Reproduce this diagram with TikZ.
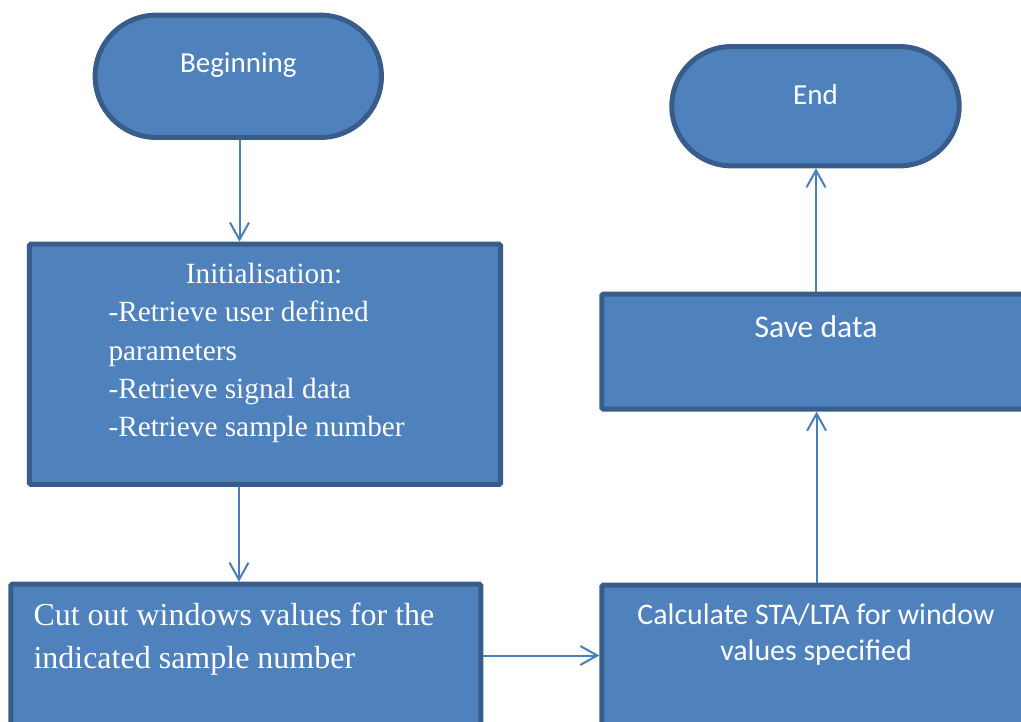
\documentclass[tikz,border=0pt]{standalone}
\usepackage{fontspec}
\setmainfont{Liberation Serif}
\newfontfamily\calfont{Carlito}
\usetikzlibrary{arrows.meta,calc}
\definecolor{boxfill}{HTML}{4F81BD}
\definecolor{boxline}{HTML}{385D8A}
\definecolor{linkblue}{HTML}{4A7EBB}
\begin{document}
\begin{tikzpicture}[x=1pt,y=-1pt,
  shapebox/.style={draw=boxline, fill=boxfill, line width=5pt, inner sep=0pt},
  terminal/.style={shapebox},
  process/.style={shapebox, rounded corners=1.5pt},
  conn/.style={draw=linkblue, line width=2pt, line cap=round,
    -{Straight Barb[length=17pt,width=19pt,line width=2pt]}},
  sanslabel/.style={text=white, inner sep=0pt, anchor=base,
    font=\calfont\fontsize{29}{35}\selectfont},
  seriflabel/.style={text=white, inner sep=0pt, anchor=base west,
    font=\fontsize{29.3}{38}\selectfont},
  bigserif/.style={text=white, inner sep=0pt, anchor=base west,
    font=\fontsize{32}{42}\selectfont}]
\useasboundingbox (0,0) rectangle (1021,722);
\clip (0,0) rectangle (1021,722);

% terminals
\node[terminal, rounded corners=61pt, minimum width=286.3pt, minimum height=122.3pt]
  (begin) at (238.3,76.3) {};
\node[terminal, rounded corners=59.6pt, minimum width=287.4pt, minimum height=119.3pt]
  (end) at (815.5,106.2) {};

% process boxes
\node[process, minimum width=471.3pt, minimum height=240.3pt] (init) at (264.9,364.3) {};
\node[process, minimum width=470pt, minimum height=240pt] (cut) at (245.8,704.2) {};
\node[process, minimum width=428.4pt, minimum height=240pt] (calc) at (816,705.2) {};
\node[process, minimum width=428.4pt, minimum height=115pt] (save) at (816,351.7) {};

% texts
\node[sanslabel] (begintxt) at (238.3,73) {Beginning};
\node[sanslabel] (endtxt) at (815.5,105) {End};
\node[sanslabel, font=\calfont\fontsize{31.6}{38}\selectfont] (savetxt) at (816,337.3) {Save data};
\node[sanslabel, font=\calfont\fontsize{29.9}{36}\selectfont] (calctxta) at (816,624) {Calculate STA/LTA for window};
\node[sanslabel, font=\calfont\fontsize{29.9}{36}\selectfont] (calctxtb) at (816,660.7) {values specified};

\node[seriflabel, anchor=base] (inittxt0) at (264,283.3) {Initialisation:};
\node[seriflabel] (inittxt1) at (108.3,321.7) {-Retrieve user defined};
\node[seriflabel] (inittxt2) at (108.3,360) {parameters};
\node[seriflabel] (inittxt3) at (108.3,398.3) {-Retrieve signal data};
\node[seriflabel] (inittxt4) at (108.3,436.7) {-Retrieve sample number};

\node[bigserif] (cuttxt1) at (33.3,625.7) {Cut out windows values for the};
\node[bigserif] (cuttxt2) at (33.3,668) {indicated sample number};

% connectors
\draw[conn] ($(begin.south)+(1.2,0)$) -- ($(begin.south |- init.north)+(1.2,0)$);
\draw[conn] ($(begin.south |- init.south)+(0.7,0)$) -- ($(begin.south |- cut.north)+(0.7,0)$);
\draw[conn] (cut.east |- 0,655.5) -- (calc.west |- 0,655.5);
\draw[conn] ($(calc.north)+(0.6,0)$) -- ($(save.south)+(0.6,0)$);
\draw[conn] (save.north) -- (save.north |- end.south);
\end{tikzpicture}
\end{document}
